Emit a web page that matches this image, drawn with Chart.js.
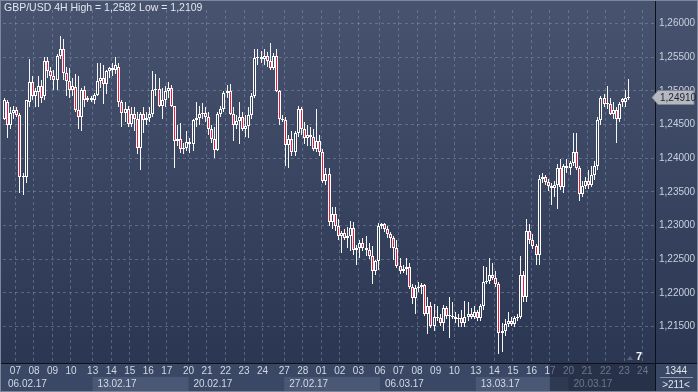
<!DOCTYPE html>
<html>
<head>
<meta charset="utf-8">
<script src="https://cdn.jsdelivr.net/npm/chart.js@4/dist/chart.umd.min.js"></script>
<style>
  html, body { margin: 0; padding: 0; background: #2f3b57; }
  #contenedor { width: 698px; height: 392px; }
</style>
</head>
<body>
<div id="contenedor"><canvas id="grafico" width="698" height="392"></canvas></div>
<script>
/* datos de las velas GBP/USD 4H */
const aperturas = [
  1.2458,1.2484,1.2450,1.2467,1.2471,1.2464,1.2372,1.2372,1.2483,1.2513,
  1.2493,1.2499,1.2508,1.2492,1.2544,1.2529,1.2522,1.2516,1.2552,1.2562,
  1.2526,1.2515,1.2502,1.2506,1.2471,1.2461,1.2502,1.2487,1.2489,1.2486,
  1.2494,1.2515,1.2519,1.2510,1.2529,1.2534,1.2531,1.2536,1.2483,1.2467,
  1.2473,1.2451,1.2466,1.2458,1.2415,1.2466,1.2457,1.2460,1.2466,1.2502,
  1.2503,1.2477,1.2487,1.2500,1.2505,1.2477,1.2426,1.2428,1.2413,1.2415,
  1.2424,1.2421,1.2457,1.2460,1.2466,1.2467,1.2461,1.2444,1.2428,1.2412,
  1.2466,1.2473,1.2497,1.2500,1.2466,1.2450,1.2456,1.2461,1.2444,1.2448,
  1.2464,1.2493,1.2549,1.2551,1.2548,1.2552,1.2545,1.2534,1.2552,1.2500,
  1.2458,1.2457,1.2419,1.2428,1.2409,1.2437,1.2473,1.2444,1.2430,1.2435,
  1.2432,1.2413,1.2426,1.2409,1.2366,1.2376,1.2305,1.2317,1.2300,1.2285,
  1.2289,1.2282,1.2284,1.2297,1.2263,1.2266,1.2274,1.2266,1.2263,1.2255,
  1.2232,1.2247,1.2300,1.2302,1.2295,1.2288,1.2282,1.2266,1.2240,1.2233,
  1.2236,1.2239,1.2209,1.2192,1.2207,1.2209,1.2212,1.2169,1.2180,1.2151,
  1.2164,1.2162,1.2155,1.2177,1.2165,1.2166,1.2164,1.2161,1.2162,1.2155,
  1.2164,1.2168,1.2164,1.2172,1.2162,1.2180,1.2216,1.2217,1.2226,1.2222,
  1.2213,1.2141,1.2143,1.2154,1.2158,1.2154,1.2162,1.2164,1.2226,1.2194,
  1.2292,1.2279,1.2269,1.2256,1.2369,1.2372,1.2364,1.2359,1.2356,1.2360,
  1.2386,1.2357,1.2389,1.2385,1.2393,1.2409,1.2385,1.2347,1.2359,1.2366,
  1.2360,1.2375,1.2389,1.2457,1.2490,1.2480,1.2481,1.2466,1.2471,1.2458,
  1.2488,1.2484,1.2490
];
const maximos = [
  1.2490,1.2487,1.2476,1.2477,1.2476,1.2467,1.2378,1.2487,1.2548,1.2522,
  1.2505,1.2522,1.2516,1.2551,1.2551,1.2536,1.2531,1.2555,1.2582,1.2577,
  1.2536,1.2534,1.2519,1.2525,1.2522,1.2505,1.2508,1.2493,1.2493,1.2497,
  1.2541,1.2541,1.2538,1.2531,1.2536,1.2541,1.2551,1.2541,1.2487,1.2483,
  1.2477,1.2476,1.2476,1.2469,1.2469,1.2476,1.2469,1.2476,1.2529,1.2525,
  1.2519,1.2505,1.2508,1.2513,1.2509,1.2478,1.2450,1.2453,1.2422,1.2440,
  1.2430,1.2458,1.2483,1.2478,1.2482,1.2476,1.2469,1.2450,1.2447,1.2469,
  1.2478,1.2500,1.2509,1.2510,1.2476,1.2464,1.2483,1.2469,1.2464,1.2476,
  1.2497,1.2562,1.2562,1.2560,1.2562,1.2558,1.2571,1.2557,1.2562,1.2502,
  1.2464,1.2461,1.2435,1.2440,1.2440,1.2478,1.2476,1.2454,1.2450,1.2447,
  1.2444,1.2473,1.2435,1.2413,1.2386,1.2386,1.2327,1.2327,1.2310,1.2292,
  1.2295,1.2298,1.2307,1.2305,1.2271,1.2278,1.2281,1.2284,1.2274,1.2269,
  1.2249,1.2303,1.2304,1.2304,1.2300,1.2291,1.2285,1.2278,1.2252,1.2242,
  1.2252,1.2245,1.2213,1.2211,1.2216,1.2214,1.2213,1.2194,1.2187,1.2184,
  1.2180,1.2169,1.2182,1.2181,1.2194,1.2187,1.2172,1.2169,1.2175,1.2188,
  1.2187,1.2178,1.2180,1.2175,1.2184,1.2240,1.2239,1.2252,1.2245,1.2233,
  1.2216,1.2155,1.2161,1.2171,1.2164,1.2165,1.2169,1.2255,1.2233,1.2310,
  1.2302,1.2288,1.2273,1.2375,1.2378,1.2375,1.2369,1.2363,1.2366,1.2392,
  1.2399,1.2392,1.2399,1.2396,1.2437,1.2437,1.2389,1.2366,1.2372,1.2382,
  1.2389,1.2396,1.2461,1.2493,1.2496,1.2508,1.2490,1.2483,1.2476,1.2483,
  1.2490,1.2502,1.2518
];
const minimos = [
  1.2457,1.2430,1.2443,1.2458,1.2461,1.2349,1.2346,1.2363,1.2476,1.2487,
  1.2476,1.2476,1.2482,1.2487,1.2519,1.2516,1.2502,1.2502,1.2548,1.2516,
  1.2493,1.2490,1.2493,1.2469,1.2443,1.2440,1.2476,1.2483,1.2483,1.2480,
  1.2493,1.2505,1.2480,1.2496,1.2519,1.2522,1.2525,1.2476,1.2447,1.2454,
  1.2447,1.2447,1.2440,1.2406,1.2382,1.2437,1.2450,1.2454,1.2461,1.2493,
  1.2476,1.2458,1.2476,1.2490,1.2476,1.2386,1.2418,1.2408,1.2406,1.2411,
  1.2408,1.2411,1.2447,1.2450,1.2458,1.2454,1.2435,1.2422,1.2401,1.2411,
  1.2461,1.2469,1.2490,1.2464,1.2425,1.2444,1.2421,1.2440,1.2432,1.2430,
  1.2458,1.2490,1.2538,1.2541,1.2539,1.2536,1.2531,1.2531,1.2499,1.2450,
  1.2454,1.2389,1.2385,1.2404,1.2404,1.2432,1.2435,1.2421,1.2418,1.2418,
  1.2411,1.2409,1.2404,1.2363,1.2360,1.2300,1.2295,1.2292,1.2278,1.2259,
  1.2279,1.2266,1.2262,1.2256,1.2242,1.2252,1.2262,1.2255,1.2250,1.2213,
  1.2227,1.2234,1.2295,1.2291,1.2281,1.2266,1.2249,1.2237,1.2228,1.2230,
  1.2227,1.2205,1.2183,1.2168,1.2201,1.2198,1.2166,1.2139,1.2148,1.2143,
  1.2158,1.2151,1.2143,1.2161,1.2133,1.2161,1.2155,1.2149,1.2149,1.2149,
  1.2158,1.2161,1.2161,1.2158,1.2158,1.2175,1.2213,1.2213,1.2219,1.2209,
  1.2109,1.2112,1.2136,1.2149,1.2151,1.2149,1.2158,1.2161,1.2187,1.2187,
  1.2273,1.2265,1.2242,1.2242,1.2363,1.2360,1.2351,1.2331,1.2343,1.2324,
  1.2353,1.2349,1.2378,1.2375,1.2389,1.2382,1.2336,1.2343,1.2354,1.2354,
  1.2357,1.2367,1.2382,1.2450,1.2476,1.2473,1.2464,1.2458,1.2422,1.2454,
  1.2476,1.2476,1.2487
];
const cierres = [
  1.2486,1.2450,1.2467,1.2471,1.2464,1.2372,1.2373,1.2486,1.2513,1.2493,
  1.2500,1.2508,1.2490,1.2544,1.2529,1.2522,1.2516,1.2552,1.2562,1.2526,
  1.2515,1.2502,1.2508,1.2471,1.2461,1.2502,1.2487,1.2489,1.2486,1.2494,
  1.2515,1.2519,1.2510,1.2529,1.2534,1.2531,1.2539,1.2483,1.2467,1.2473,
  1.2451,1.2466,1.2458,1.2415,1.2466,1.2457,1.2460,1.2466,1.2502,1.2503,
  1.2477,1.2487,1.2500,1.2505,1.2477,1.2426,1.2428,1.2413,1.2415,1.2424,
  1.2421,1.2457,1.2460,1.2466,1.2467,1.2461,1.2444,1.2428,1.2412,1.2466,
  1.2473,1.2497,1.2500,1.2466,1.2450,1.2456,1.2461,1.2444,1.2448,1.2464,
  1.2493,1.2549,1.2551,1.2548,1.2552,1.2545,1.2534,1.2552,1.2500,1.2458,
  1.2457,1.2419,1.2428,1.2409,1.2437,1.2473,1.2444,1.2430,1.2435,1.2432,
  1.2413,1.2426,1.2409,1.2366,1.2376,1.2305,1.2317,1.2300,1.2285,1.2289,
  1.2282,1.2284,1.2297,1.2263,1.2266,1.2274,1.2266,1.2263,1.2255,1.2232,
  1.2247,1.2300,1.2302,1.2295,1.2288,1.2282,1.2266,1.2240,1.2233,1.2236,
  1.2239,1.2209,1.2192,1.2207,1.2209,1.2212,1.2169,1.2180,1.2151,1.2164,
  1.2162,1.2155,1.2177,1.2165,1.2166,1.2164,1.2161,1.2162,1.2155,1.2164,
  1.2168,1.2164,1.2172,1.2162,1.2180,1.2216,1.2217,1.2226,1.2222,1.2213,
  1.2141,1.2143,1.2154,1.2158,1.2154,1.2162,1.2164,1.2226,1.2194,1.2292,
  1.2279,1.2269,1.2256,1.2369,1.2372,1.2364,1.2359,1.2356,1.2360,1.2386,
  1.2357,1.2389,1.2385,1.2393,1.2409,1.2385,1.2347,1.2359,1.2366,1.2360,
  1.2375,1.2389,1.2457,1.2490,1.2480,1.2481,1.2466,1.2471,1.2458,1.2480,
  1.2484,1.2490,1.2491
];

// huecos visibles en el eje (velas + espacio libre a la derecha)
const totalHuecos = 211;

// etiquetas de dias (indice de la primera vela del dia)
const diasIndice = [4,10,16,22,29,35,41,47,53,60,66,72,78,84,91,97,103,109,115,122,128,134,140,146,153,159,165,171,177,183,189,195,201,207];
const diasTexto = ['07','08','09','10','13','14','15','16','17','20','21','22','23','24','27','28','01','02','03','06','07','08','09','10','13','14','15','16','17','20','21','22','23','24'];

// etiquetas de semanas
const semanasIndice = [0,29,60,91,122,153,183];
const semanasTexto = ['06.02.17','13.02.17','20.02.17','27.02.17','06.03.17','13.03.17','20.03.17'];

// valores del eje de precios
const preciosEje = [1.215,1.220,1.225,1.230,1.235,1.240,1.245,1.250,1.255,1.260];

const tituloTexto = 'GBP/USD 4H High = 1,2582 Low = 1,2109';
const fuente = "'Liberation Sans', Arial, sans-serif";

function formatoPrecio(valor) {
    return valor.toFixed(5).replace('.', ',');
}

// arma los datos para el grafico
function dataParaElGrafico() {
    const posiciones = [];
    for (let i = 0; i < totalHuecos; i++) {
        posiciones.push(i);
    }
    const cuerpos = aperturas.map((o, i) => [o, cierres[i]]);
    const mechas = minimos.map((l, i) => [l, maximos[i]]);
    const colores = aperturas.map((o, i) => cierres[i] < o ? '#ee1a3c' : '#35415d');
    return { posiciones, cuerpos, mechas, colores };
}

// ajusta las barras a pixeles enteros para que las velas se vean nitidas
const nitidez = {
    id: 'nitidez',
    beforeDatasetsDraw(chart) {
        chart.data.datasets.forEach((ds, d) => {
            const meta = chart.getDatasetMeta(d);
            meta.data.forEach((barra) => {
                barra.x = Math.floor(barra.x) + 0.5;
                barra.y = Math.round(barra.y);
                barra.base = Math.round(barra.base);
            });
        });
    }
};

// dibuja fondo, cajas de semanas y textos extra
const decorado = {
    id: 'decorado',
    beforeDraw(chart) {
        const ctx = chart.ctx;
        const area = chart.chartArea;
        const ejeX = chart.scales.x;
        const mitad = (ejeX.getPixelForValue(1) - ejeX.getPixelForValue(0)) / 2;
        ctx.save();
        const degradado = ctx.createLinearGradient(0, 0, 0, area.bottom);
        degradado.addColorStop(0, '#48536f');
        degradado.addColorStop(1, '#2b3752');
        ctx.fillStyle = degradado;
        ctx.fillRect(0, 0, chart.width, area.bottom);
        // banda del eje x
        ctx.fillStyle = '#3a4765';
        ctx.fillRect(0, area.bottom, chart.width, chart.height - area.bottom);
        // cajas alternas de semana
        for (let k = 0; k < semanasIndice.length; k++) {
            const ini = k === 0 ? 0 : ejeX.getPixelForValue(semanasIndice[k]) - mitad;
            const fin = k + 1 < semanasIndice.length ? ejeX.getPixelForValue(semanasIndice[k + 1]) - mitad : area.right;
            if (k % 2 === 1) {
                ctx.fillStyle = '#4a5775';
                ctx.fillRect(ini, area.bottom + 14, fin - ini, 14);
            }
        }
        ctx.restore();
    },
    afterDraw(chart) {
        const ctx = chart.ctx;
        const area = chart.chartArea;
        const ejeX = chart.scales.x;
        const ejeY = chart.scales.y;
        const mitad = (ejeX.getPixelForValue(1) - ejeX.getPixelForValue(0)) / 2;
        ctx.save();
        ctx.textBaseline = 'middle';

        // textos de semana
        ctx.font = '10px ' + fuente;
        ctx.fillStyle = '#d3d9e5';
        ctx.textAlign = 'left';
        for (let k = 0; k < semanasIndice.length; k++) {
            const ini = k === 0 ? 0 : ejeX.getPixelForValue(semanasIndice[k]) - mitad;
            ctx.fillText(semanasTexto[k], Math.max(ini + 5, 8), area.bottom + 21);
        }

        // zona oscurecida a la derecha del eje x
        const inicioSombra = ejeX.getPixelForValue(177) - mitad;
        ctx.fillStyle = 'rgba(24,32,52,0.55)';
        ctx.fillRect(inicioSombra, area.bottom, area.right - inicioSombra, chart.height - area.bottom);

        // lineas negras de separacion
        ctx.strokeStyle = '#0c1018';
        ctx.lineWidth = 1;
        ctx.beginPath();
        ctx.moveTo(0, Math.round(area.bottom) + 0.5);
        ctx.lineTo(chart.width, Math.round(area.bottom) + 0.5);
        ctx.moveTo(Math.round(area.right) + 0.5, 0);
        ctx.lineTo(Math.round(area.right) + 0.5, chart.height);
        ctx.stroke();

        // caja inferior derecha
        ctx.fillStyle = '#e1e5ee';
        ctx.textAlign = 'center';
        ctx.fillText('1344', 676, area.bottom + 8);
        ctx.fillText('>211<', 676, area.bottom + 22);
        ctx.strokeStyle = '#8f98ab';
        ctx.beginPath();
        ctx.moveTo(660, area.bottom + 14.5);
        ctx.lineTo(693, area.bottom + 14.5);
        ctx.stroke();

        // titulo
        ctx.textAlign = 'left';
        ctx.font = '10.5px ' + fuente;
        ctx.fillStyle = '#e3e7ef';
        ctx.fillText(tituloTexto, 4, 8);

        // marca de precio actual
        const ultimo = cierres[cierres.length - 1];
        const yPrecio = Math.round(ejeY.getPixelForValue(ultimo)) + 0.5;
        const xIni = Math.round(area.right) + 1;
        ctx.fillStyle = '#b6b9c0';
        ctx.strokeStyle = '#7f848e';
        ctx.beginPath();
        ctx.moveTo(xIni - 4, yPrecio);
        ctx.lineTo(xIni + 2, yPrecio - 7);
        ctx.lineTo(694, yPrecio - 7);
        ctx.lineTo(694, yPrecio + 7);
        ctx.lineTo(xIni + 2, yPrecio + 7);
        ctx.closePath();
        ctx.fill();
        ctx.stroke();
        ctx.font = '10px ' + fuente;
        ctx.fillStyle = '#1c2333';
        ctx.fillText(formatoPrecio(ultimo), xIni + 4, yPrecio + 0.5);

        // marca "7" abajo a la derecha
        ctx.fillStyle = '#59637b';
        ctx.beginPath();
        ctx.moveTo(627, area.bottom - 3);
        ctx.lineTo(630, area.bottom - 7);
        ctx.lineTo(633, area.bottom - 3);
        ctx.closePath();
        ctx.fill();
        ctx.font = 'bold 11px ' + fuente;
        ctx.fillStyle = '#f4f6fa';
        ctx.fillText('7', 636, area.bottom - 6);

        // marco exterior
        ctx.strokeStyle = '#7e889d';
        ctx.strokeRect(0.5, 0.5, chart.width - 1, chart.height - 1);
        ctx.restore();
    }
};

function cargarGrafico() {
    const datos = dataParaElGrafico();
    const colorGrilla = 'rgba(140,155,185,0.45)';
    const config = {
        type: 'bar',
        data: {
            labels: datos.posiciones,
            datasets: [
                {
                    label: 'cuerpos',
                    data: datos.cuerpos,
                    backgroundColor: datos.colores,
                    borderColor: '#ffffff',
                    borderWidth: 1,
                    borderSkipped: false,
                    barThickness: 3,
                    minBarLength: 1,
                    inflateAmount: 0,
                    grouped: false,
                    order: 1
                },
                {
                    label: 'mechas',
                    data: datos.mechas,
                    backgroundColor: '#f6f6f6',
                    borderWidth: 0,
                    barThickness: 1,
                    inflateAmount: 0,
                    grouped: false,
                    order: 2
                }
            ]
        },
        options: {
            responsive: false,
            animation: false,
            devicePixelRatio: 1,
            layout: { padding: { left: 3, top: 0, right: 0, bottom: 0 } },
            plugins: { legend: { display: false }, tooltip: { enabled: false } },
            scales: {
                x: {
                    offset: true,
                    afterFit: (escala) => { escala.height = 29; },
                    grid: {
                        offset: true,
                        drawTicks: false,
                        color: (c) => diasIndice.includes(c.index) ? colorGrilla : 'rgba(0,0,0,0)'
                    },
                    border: { display: false, dash: [3, 3] },
                    ticks: {
                        autoSkip: false,
                        maxRotation: 0,
                        minRotation: 0,
                        padding: 2,
                        labelOffset: -1.5,
                        color: '#d3d9e5',
                        font: { family: fuente, size: 10 },
                        callback: (v, i) => {
                            const k = diasIndice.indexOf(i);
                            return k >= 0 ? diasTexto[k] : '';
                        }
                    }
                },
                y: {
                    position: 'right',
                    min: 1.20957,
                    max: 1.26202,
                    afterFit: (escala) => { escala.width = 43; },
                    afterBuildTicks: (escala) => {
                        escala.ticks = preciosEje.map((v) => ({ value: v }));
                    },
                    grid: { color: colorGrilla, drawTicks: false },
                    border: { display: false, dash: [3, 3] },
                    ticks: {
                        padding: 4,
                        color: '#c9d0de',
                        font: { family: fuente, size: 10 },
                        callback: (v) => formatoPrecio(v)
                    }
                }
            }
        },
        plugins: [nitidez, decorado]
    };
    new Chart(document.getElementById('grafico'), config);
}

cargarGrafico();
</script>
</body>
</html>
